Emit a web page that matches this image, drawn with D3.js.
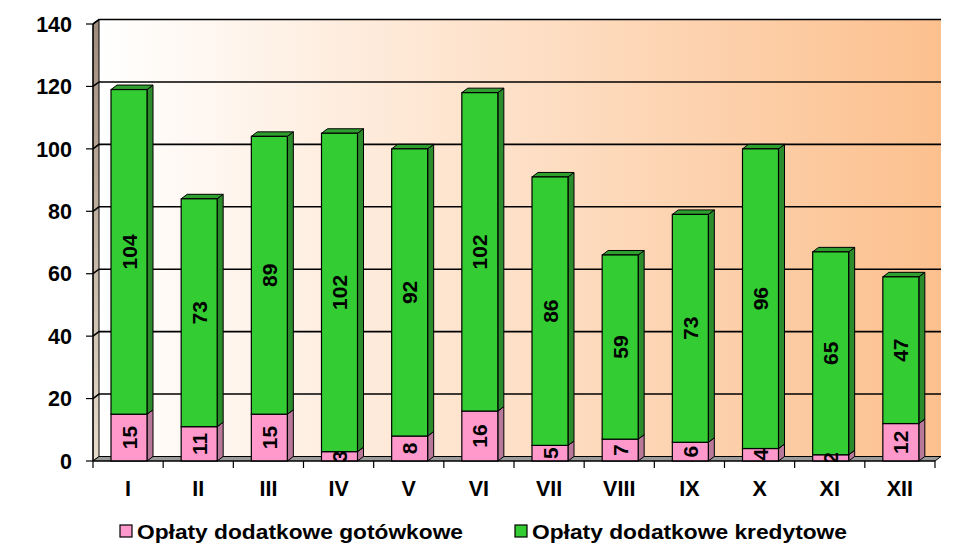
<!DOCTYPE html>
<html>
<head>
<meta charset="utf-8">
<script src="https://cdn.jsdelivr.net/npm/d3@7/dist/d3.min.js"></script>
<style>
  html, body { margin: 0; padding: 0; background: #ffffff; }
  svg { display: block; font-family: "Liberation Sans", Arial, sans-serif; font-weight: bold; }
</style>
</head>
<body>
<svg id="chart" width="975" height="558"></svg>
<script>
const months = ["I","II","III","IV","V","VI","VII","VIII","IX","X","XI","XII"];
const cashFees = [15, 11, 15, 3, 8, 16, 5, 7, 6, 4, 2, 12];
const creditFees = [104, 73, 89, 102, 92, 102, 86, 59, 73, 96, 65, 47];
const yTicks = [0, 20, 40, 60, 80, 100, 120, 140];
const seriesNames = ["Opłaty dodatkowe gotówkowe", "Opłaty dodatkowe kredytowe"];

const colors = {
  cash: { front: "#FF99CC", side: "#B8789A", top: "#E08AB8" },
  credit: { front: "#33CC33", side: "#2A8C2A", top: "#2FA02F" }
};

const svg = d3.select("#chart");
const x = d3.scaleBand().domain(months).range([93, 935]).padding(0);
const y = d3.scaleLinear().domain([0, 140]).range([461, 24]);
const DX = 6, DY = -4.5;
const barW = 36;
const barOff = 18;

const defs = svg.append("defs");
const grad = defs.append("linearGradient").attr("id", "wallGrad")
  .attr("x1", "0%").attr("x2", "100%").attr("y1", "0%").attr("y2", "0%");
grad.append("stop").attr("offset", "0%").attr("stop-color", "#FFFFFF");
grad.append("stop").attr("offset", "100%").attr("stop-color", "#FCC08E");
const sideGrad = defs.append("linearGradient").attr("id", "sideGrad")
  .attr("x1", "0%").attr("x2", "0%").attr("y1", "0%").attr("y2", "100%");
sideGrad.append("stop").attr("offset", "0%").attr("stop-color", "#A08C7C");
sideGrad.append("stop").attr("offset", "100%").attr("stop-color", "#E8DCCC");
defs.append("clipPath").attr("id", "plotClip")
  .append("rect").attr("x", 0).attr("y", 0).attr("width", 975).attr("height", y(0) + 1);

const x0 = x.range()[0], x1 = x.range()[1];
const yTop = y(140), yBot = y(0);

svg.append("rect")
  .attr("x", x0 + DX).attr("y", yTop + DY)
  .attr("width", x1 - x0).attr("height", yBot - yTop)
  .attr("fill", "url(#wallGrad)");
svg.append("path")
  .attr("d", `M${x0},${yTop} L${x0 + DX},${yTop + DY} L${x0 + DX},${yBot + DY} L${x0},${yBot} Z`)
  .attr("fill", "url(#sideGrad)").attr("stroke", "#000").attr("stroke-width", 1);

yTicks.forEach(t => {
  if (t === 0) return;
  svg.append("path")
    .attr("d", `M${x0},${y(t)} L${x0 + DX},${y(t) + DY} L${x1 + DX},${y(t) + DY}`)
    .attr("fill", "none").attr("stroke", "#000").attr("stroke-width", 1.6);
});

svg.append("path")
  .attr("d", `M${x0},${yBot} L${x0 + DX},${yBot + DY} L${x1 + DX},${yBot + DY} L${x1},${yBot} Z`)
  .attr("fill", "#9A9A9A").attr("stroke", "#000").attr("stroke-width", 1);

function box(g, xl, yt, yb, c) {
  const xr = xl + barW;
  g.append("path")
    .attr("d", `M${xr},${yt} L${xr + DX},${yt + DY} L${xr + DX},${yb + DY} L${xr},${yb} Z`)
    .attr("fill", c.side).attr("stroke", "#000").attr("stroke-width", 1);
  g.append("path")
    .attr("d", `M${xl},${yt} L${xl + DX},${yt + DY} L${xr + DX},${yt + DY} L${xr},${yt} Z`)
    .attr("fill", c.top).attr("stroke", "#000").attr("stroke-width", 1);
  g.append("rect")
    .attr("x", xl).attr("y", yt).attr("width", barW).attr("height", yb - yt)
    .attr("fill", c.front).attr("stroke", "#000").attr("stroke-width", 1.2);
}

const barsG = svg.append("g");
months.forEach((m, i) => {
  const xl = x(m) + barOff;
  const g = barsG.append("g");
  box(g, xl, y(cashFees[i]), y(0), colors.cash);
  box(g, xl, y(cashFees[i] + creditFees[i]), y(cashFees[i]), colors.credit);
});

const labG = svg.append("g").attr("clip-path", "url(#plotClip)");
months.forEach((m, i) => {
  const cx = x(m) + barOff + barW / 2;
  const segs = [[0, cashFees[i]], [cashFees[i], cashFees[i] + creditFees[i]]];
  const vals = [cashFees[i], creditFees[i]];
  segs.forEach((s, k) => {
    const cy = (y(s[0]) + y(s[1])) / 2;
    labG.append("text")
      .attr("transform", `translate(${cx},${cy}) rotate(-90)`)
      .attr("text-anchor", "middle").attr("dy", "0.36em")
      .attr("font-size", 21).attr("fill", "#000")
      .text(vals[k]);
  });
});

svg.append("line").attr("x1", x0).attr("x2", x0).attr("y1", yTop).attr("y2", yBot)
  .attr("stroke", "#000").attr("stroke-width", 1.2);
yTicks.forEach(t => {
  svg.append("line").attr("x1", x0 - 7).attr("x2", x0).attr("y1", y(t)).attr("y2", y(t))
    .attr("stroke", "#000").attr("stroke-width", 1.2);
  svg.append("text").attr("x", 72).attr("y", y(t)).attr("dy", "0.36em")
    .attr("text-anchor", "end").attr("font-size", 21.5).text(t);
});

svg.append("line").attr("x1", x0).attr("x2", x1).attr("y1", yBot).attr("y2", yBot)
  .attr("stroke", "#000").attr("stroke-width", 1.2);
months.concat(["end"]).forEach((m, i) => {
  const xt = x0 + i * x.bandwidth();
  svg.append("line").attr("x1", xt).attr("x2", xt).attr("y1", yBot).attr("y2", yBot + 7)
    .attr("stroke", "#000").attr("stroke-width", 1.2);
});
months.forEach(m => {
  svg.append("text").attr("x", x(m) + x.bandwidth() / 2).attr("y", 496)
    .attr("text-anchor", "middle").attr("font-size", 21.5).text(m);
});

const legendItems = [
  { name: seriesNames[0], c: colors.cash.front, sx: 120, len: 326 },
  { name: seriesNames[1], c: colors.credit.front, sx: 515, len: 315 }
];
legendItems.forEach(it => {
  svg.append("rect").attr("x", it.sx).attr("y", 525).attr("width", 12).attr("height", 12)
    .attr("fill", it.c).attr("stroke", "#000").attr("stroke-width", 1.2);
  svg.append("text").attr("x", it.sx + 17).attr("y", 539).attr("font-size", 21)
    .attr("textLength", it.len).attr("lengthAdjust", "spacingAndGlyphs").text(it.name);
});
</script>
</body>
</html>
